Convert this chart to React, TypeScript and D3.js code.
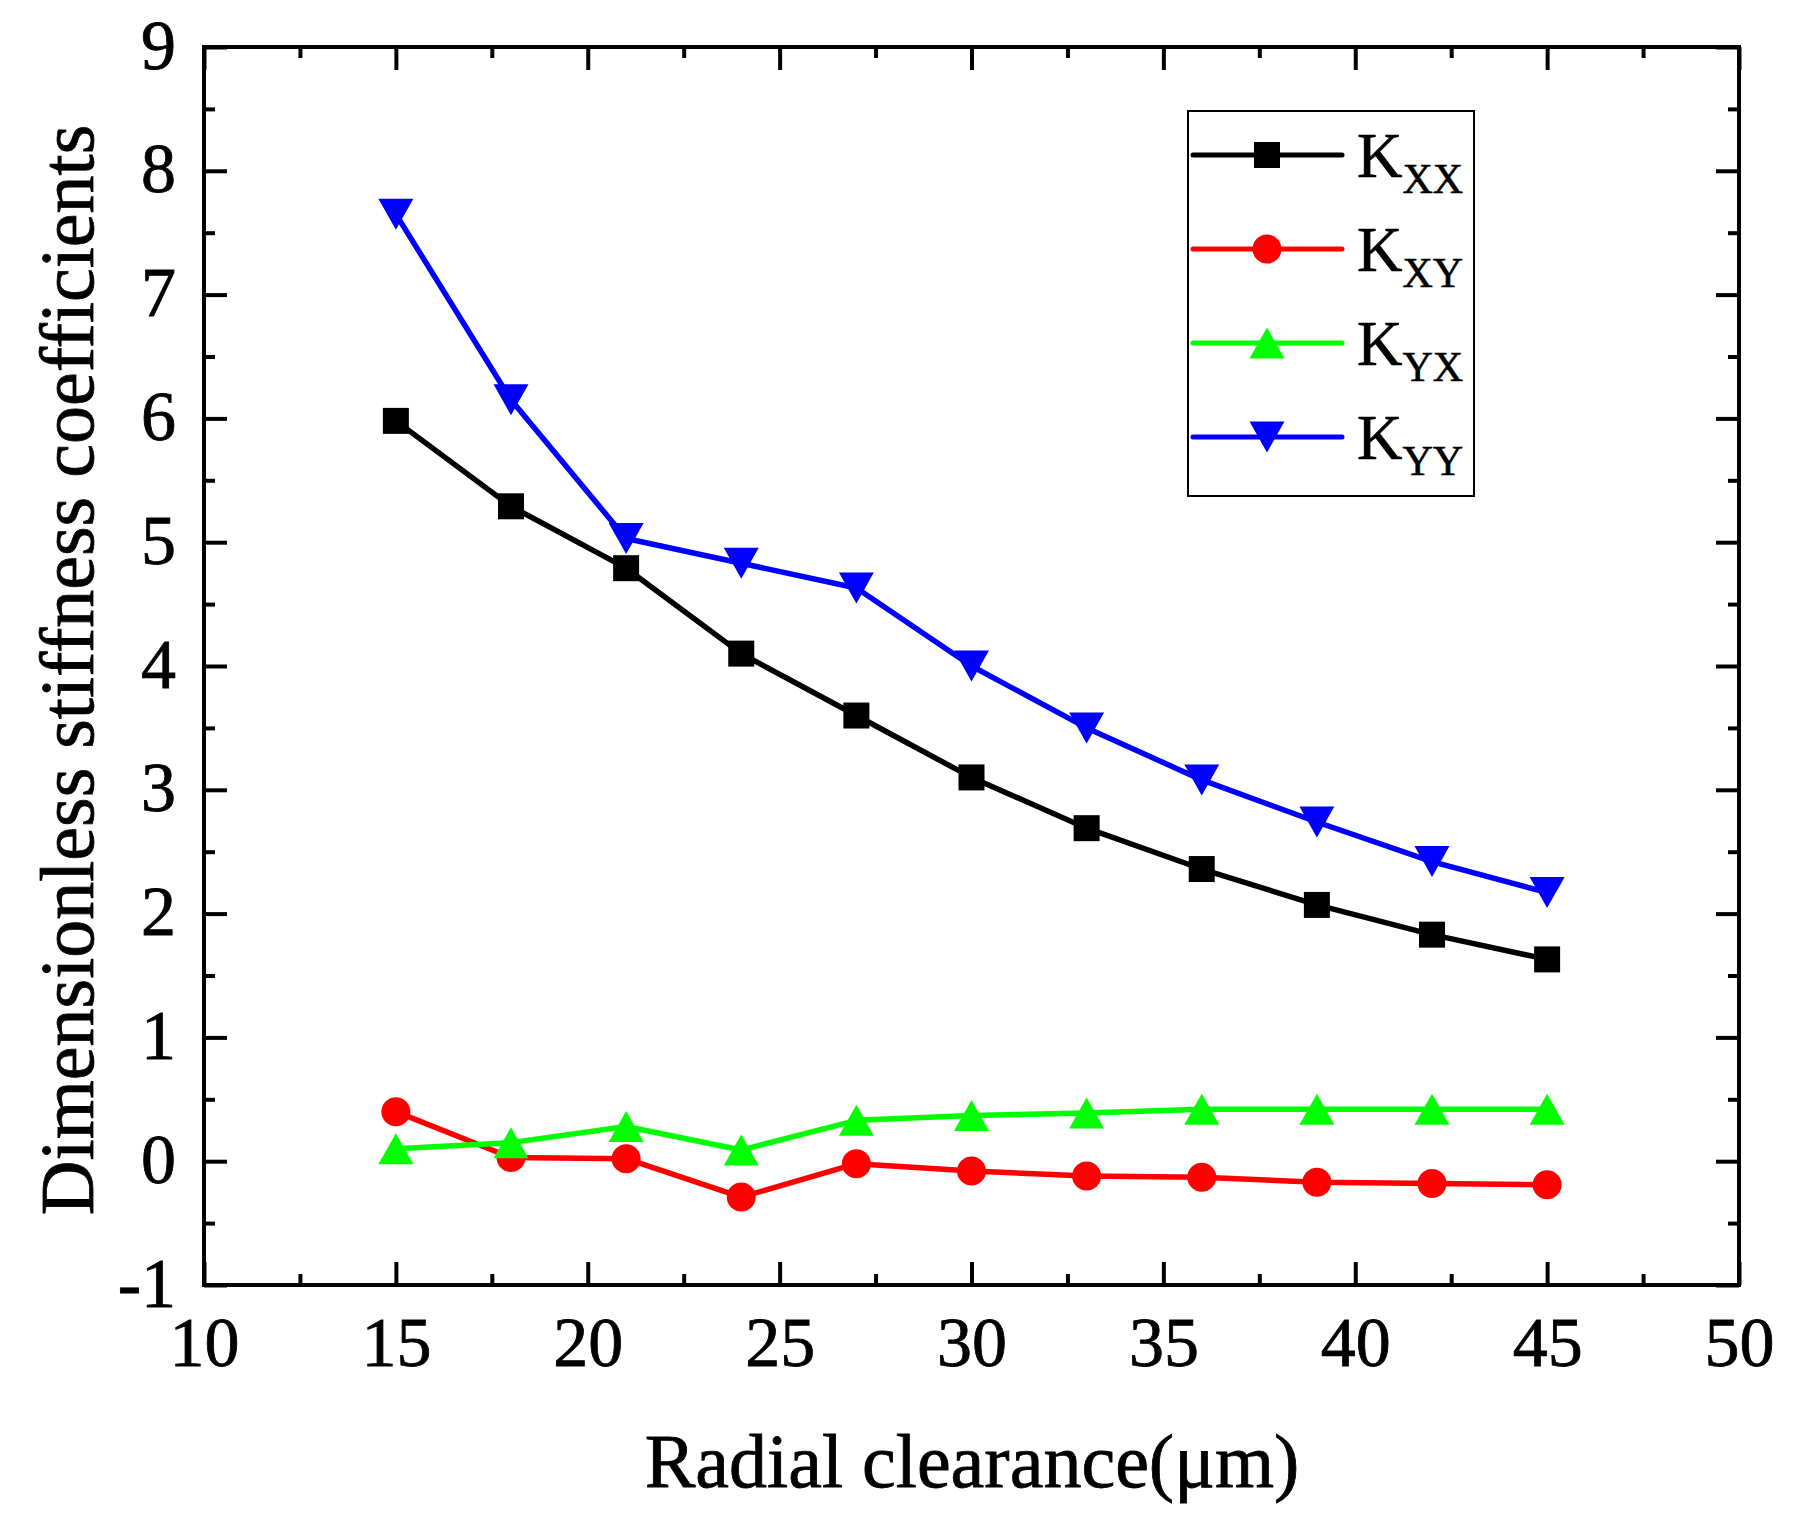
import React, { useRef, useEffect } from "react";
import * as d3 from "d3";

// radial clearance (um) on x
const clearance = [15, 18, 21, 24, 27, 30, 33, 36, 39, 42, 45];

// dimensionless stiffness coefficients
const kxx = [5.98, 5.29, 4.79, 4.1, 3.6, 3.1, 2.69, 2.36, 2.07, 1.83, 1.63];
const kxy = [0.4, 0.03, 0.02, -0.29, -0.02, -0.08, -0.12, -0.13, -0.17, -0.18, -0.19];
const kyx = [0.1, 0.15, 0.28, 0.09, 0.33, 0.37, 0.39, 0.42, 0.42, 0.42, 0.42];
const kyy = [7.65, 6.15, 5.03, 4.83, 4.63, 4.0, 3.5, 3.08, 2.74, 2.42, 2.17];

const seriesSubs = ["XX", "XY", "YX", "YY"];
const seriesColors = ["#000000", "#ff0000", "#00ff00", "#0000ff"];
const seriesShapes = ["square", "circle", "triangleUp", "triangleDown"];

const xTickValues = [10, 15, 20, 25, 30, 35, 40, 45, 50];
const xMinorValues = [12.5, 17.5, 22.5, 27.5, 32.5, 37.5, 42.5, 47.5];
const yTickValues = [-1, 0, 1, 2, 3, 4, 5, 6, 7, 8, 9];
const yMinorValues = [-0.5, 0.5, 1.5, 2.5, 3.5, 4.5, 5.5, 6.5, 7.5, 8.5];

const W = 1805;
const H = 1518;
const FONT = "'Liberation Serif', 'Times New Roman', serif";

function markerPath(shape: string) {
    if (shape === "square") return "M-13,-13h26v26h-26z";
    if (shape === "circle") return d3.symbol(d3.symbolCircle, Math.PI * 14.5 * 14.5)() as string;
    if (shape === "triangleUp") return "M0,-15.5L17.5,15.5L-17.5,15.5Z";
    return "M0,15.5L17.5,-15.5L-17.5,-15.5Z";
}

function Chart() {
    const svgRef = useRef<SVGSVGElement>(null);

    useEffect(() => {
        const svg = d3.select(svgRef.current);
        svg.selectAll("*").remove();

        const x = d3.scaleLinear().domain([10, 50]).range([204, 1739]);
        const y = d3.scaleLinear().domain([-1, 9]).range([1285, 47]);

        const series = [kxx, kxy, kyx, kyy];

        // lines + markers, drawn in series order (later ones on top)
        const line = d3
            .line<number>()
            .x((_, i) => x(clearance[i]))
            .y((d) => y(d));

        series.forEach((values, s) => {
            const g = svg.append("g");
            g.append("path")
                .attr("d", line(values))
                .attr("fill", "none")
                .attr("stroke", seriesColors[s])
                .attr("stroke-width", 5.5)
                .attr("stroke-linejoin", "round");
            g.selectAll(".marker")
                .data(values)
                .join("path")
                .attr("class", "marker")
                .attr("d", markerPath(seriesShapes[s]))
                .attr("transform", (d, i) => `translate(${x(clearance[i])},${y(d)})`)
                .attr("fill", seriesColors[s]);
        });

        // axes, ticks pointing inward on all four sides
        const styleAxis = (g: d3.Selection<SVGGElement, unknown, null, undefined>) => {
            g.select(".domain").remove();
            g.selectAll(".tick line").attr("stroke", "#000").attr("stroke-width", 4);
        };

        const styleLabels = (sel: d3.Selection<d3.BaseType, unknown, SVGGElement, unknown>) =>
            sel
                .attr("font-size", 70)
                .attr("font-family", FONT)
                .attr("fill", "#000")
                .attr("stroke", "#000")
                .attr("stroke-width", 0.8);

        const bottom = svg.append("g").attr("transform", "translate(0,1285)");
        bottom
            .call(d3.axisBottom(x).tickValues(xTickValues).tickSize(-23).tickSizeOuter(0).tickFormat((d) => String(d)))
            .call(styleAxis);
        bottom.selectAll(".tick text").attr("y", 81).attr("dy", 0).call(styleLabels);
        svg.append("g")
            .attr("transform", "translate(0,1285)")
            .call(d3.axisBottom(x).tickValues(xMinorValues).tickSize(-11).tickFormat(() => ""))
            .call(styleAxis);

        svg.append("g")
            .attr("transform", "translate(0,47)")
            .call(d3.axisTop(x).tickValues(xTickValues).tickSize(-23).tickFormat(() => ""))
            .call(styleAxis);
        svg.append("g")
            .attr("transform", "translate(0,47)")
            .call(d3.axisTop(x).tickValues(xMinorValues).tickSize(-11).tickFormat(() => ""))
            .call(styleAxis);

        const left = svg.append("g").attr("transform", "translate(204,0)");
        // plain hyphen for the negative label, as in the original
        left.call(d3.axisLeft(y).tickValues(yTickValues).tickSize(-23).tickFormat((d) => String(d))).call(styleAxis);
        left.selectAll(".tick text").attr("x", -28).attr("dy", "0.3em").call(styleLabels);
        svg.append("g")
            .attr("transform", "translate(204,0)")
            .call(d3.axisLeft(y).tickValues(yMinorValues).tickSize(-11).tickFormat(() => ""))
            .call(styleAxis);

        svg.append("g")
            .attr("transform", "translate(1739,0)")
            .call(d3.axisRight(y).tickValues(yTickValues).tickSize(-23).tickFormat(() => ""))
            .call(styleAxis);
        svg.append("g")
            .attr("transform", "translate(1739,0)")
            .call(d3.axisRight(y).tickValues(yMinorValues).tickSize(-11).tickFormat(() => ""))
            .call(styleAxis);

        // frame
        svg.append("rect")
            .attr("x", 204)
            .attr("y", 47)
            .attr("width", 1739 - 204)
            .attr("height", 1285 - 47)
            .attr("fill", "none")
            .attr("stroke", "#000")
            .attr("stroke-width", 4);

        // axis titles
        svg.append("text")
            .attr("x", 972)
            .attr("y", 1487)
            .attr("text-anchor", "middle")
            .attr("font-size", 76)
            .attr("font-family", FONT)
            .attr("stroke", "#000")
            .attr("stroke-width", 0.8)
            .text("Radial clearance(μm)");

        svg.append("text")
            .attr("transform", "translate(93,670) rotate(-90)")
            .attr("text-anchor", "middle")
            .attr("font-size", 76)
            .attr("font-family", FONT)
            .attr("stroke", "#000")
            .attr("stroke-width", 0.8)
            .text("Dimensionless stiffness coefficients");

        // legend
        const legend = svg.append("g");
        legend
            .append("rect")
            .attr("x", 1188)
            .attr("y", 111)
            .attr("width", 286)
            .attr("height", 385)
            .attr("fill", "#fff")
            .attr("stroke", "#000")
            .attr("stroke-width", 2);

        seriesSubs.forEach((sub, s) => {
            const ry = 155 + s * 94;
            legend
                .append("line")
                .attr("x1", 1193)
                .attr("x2", 1342)
                .attr("y1", ry)
                .attr("y2", ry)
                .attr("stroke", seriesColors[s])
                .attr("stroke-width", 5)
                .attr("stroke-linecap", "round");
            legend
                .append("path")
                .attr("d", markerPath(seriesShapes[s]))
                .attr("transform", `translate(1267,${ry})`)
                .attr("fill", seriesColors[s]);
            const t = legend
                .append("text")
                .attr("x", 1357)
                .attr("y", ry + 22)
                .attr("font-family", FONT)
                .attr("font-size", 63)
                .attr("stroke", "#000")
                .attr("stroke-width", 0.6);
            t.append("tspan").text("K");
            t.append("tspan").attr("font-size", 42).attr("dy", 16).text(sub);
        });
    }, []);

    return <svg ref={svgRef} width={W} height={H} style={{ display: "block", background: "#fff" }} />;
}

export default function App() {
    return (
        <div style={{ position: "absolute", left: 0, top: 0, background: "#fff" }}>
            <Chart />
        </div>
    );
}
